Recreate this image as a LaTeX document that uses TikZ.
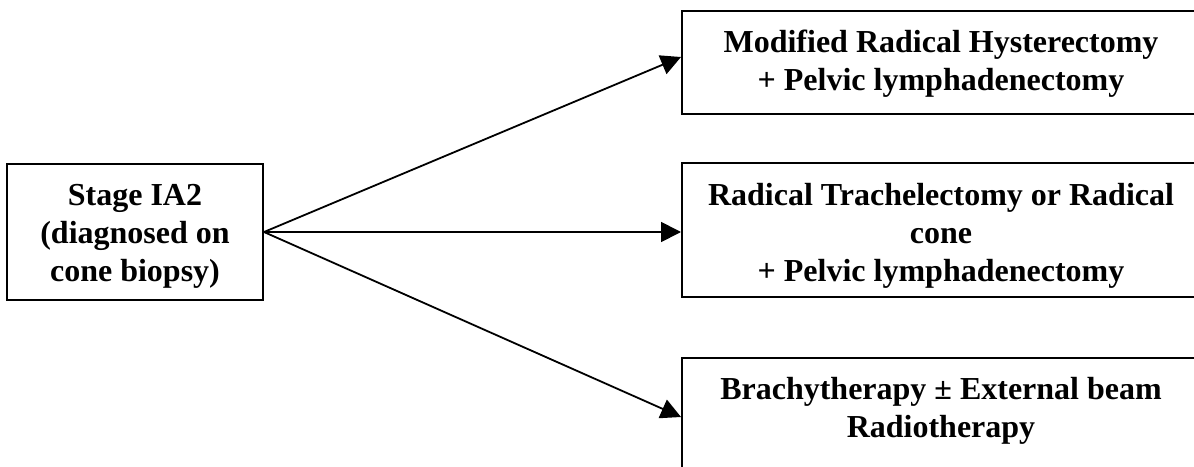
\documentclass[tikz,border=0pt]{standalone}
\usepackage{fontspec}
\setmainfont{Liberation Serif}
\usetikzlibrary{arrows.meta}
\begin{document}
\begin{tikzpicture}[x=0.5pt,y=-0.5pt,
  box/.style={draw,line width=1pt,inner sep=0pt},
  txt/.style={align=center,font=\fontsize{16}{19}\selectfont\bfseries,inner sep=0pt},
  arr/.style={-{Triangle[length=10pt,width=10pt]},line width=0.9pt}]
\useasboundingbox (0,0) rectangle (1194,466);
\clip (0,0) rectangle (1194,466);
\node[box,minimum width=128pt,minimum height=68pt] (s) at (135,232) {};
\node[txt] (st) at (135,236) {Stage IA2\\(diagnosed on\\cone biopsy)};
\node[box,minimum width=259pt,minimum height=51.5pt] (t) at (941,62.5) {};
\node[txt] (tt) at (941,64) {Modified Radical Hysterectomy\\+ Pelvic lymphadenectomy};
\node[box,minimum width=259pt,minimum height=67pt] (m) at (941,230) {};
\node[txt] (mt) at (941,236) {Radical Trachelectomy or Radical\\cone\\+ Pelvic lymphadenectomy};
\node[box,minimum width=259pt,minimum height=61pt] (b) at (941,419) {};
\node[txt] (bt) at (941,411) {Brachytherapy ± External beam\\Radiotherapy};
\draw[arr] (s.east) -- ([yshift=2.75pt]t.west);
\draw[arr] (s.east) -- (s.east -| m.west);
\draw[arr] (s.east) -- ([yshift=1pt]b.west);
\end{tikzpicture}
\end{document}
